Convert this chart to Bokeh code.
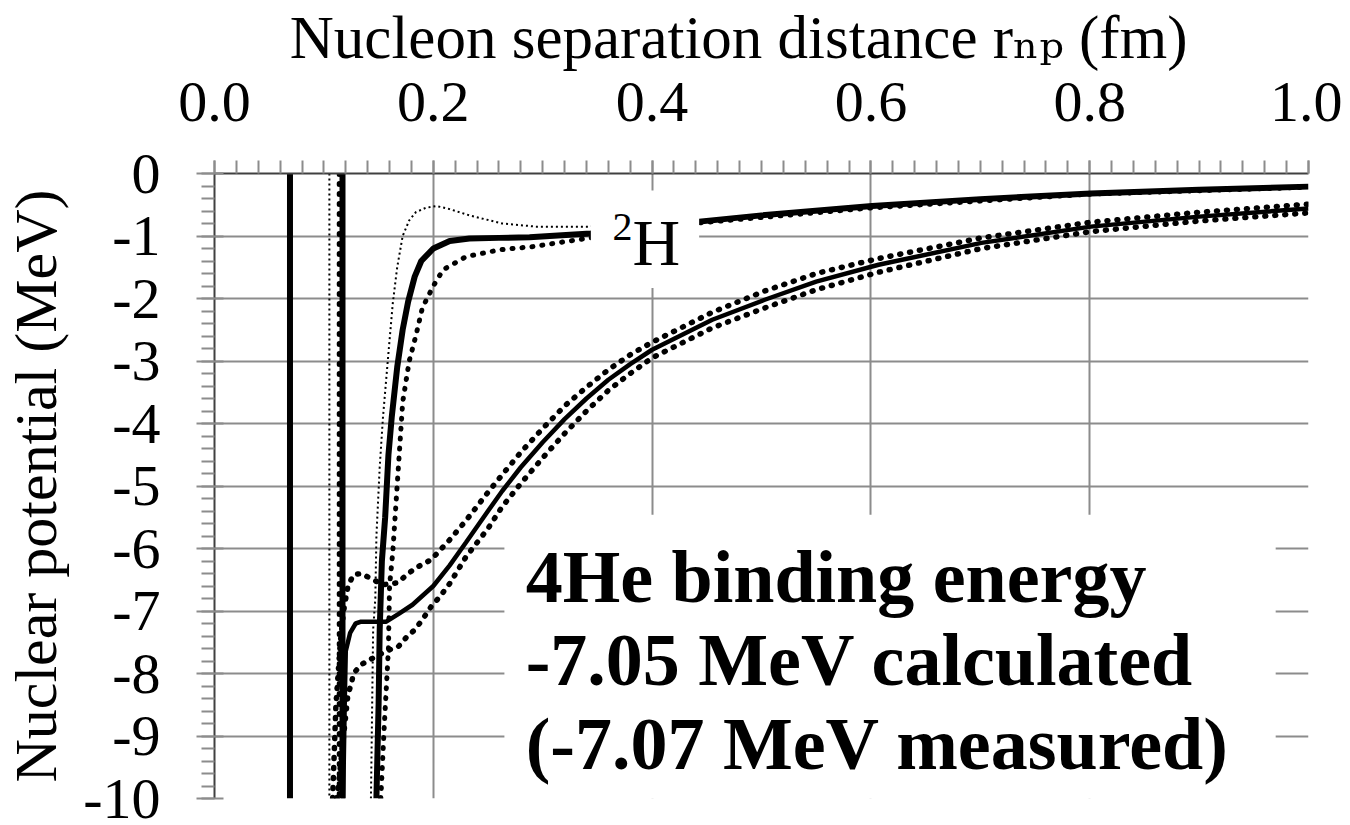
import numpy as np
from bokeh.plotting import figure
from bokeh.models import Range1d, FixedTicker, CustomJSTickFormatter, BoxAnnotation, Label
from bokeh.embed import file_html
from bokeh.resources import INLINE

# ---------------- data ----------------
x_major_ticks = [0.0, 0.2, 0.4, 0.6, 0.8, 1.0]
y_major_ticks = [0, -1, -2, -3, -4, -5, -6, -7, -8, -9, -10]

# steep walls (vertical over the whole range)
wall_a_r = [0.069, 0.069]
wall_a_v = [0.0, -10.0]
wall_b_r = [0.117, 0.117]
wall_b_v = [0.0, -10.0]
wall_thin_r = [0.105, 0.105]
wall_thin_v = [0.0, -10.0]
wall_dot_r = [0.114, 0.114]
wall_dot_v = [0.0, -10.0]

# 2H potentials
h2_solid_r = [0.148, 0.150, 0.151, 0.153, 0.156, 0.159, 0.162, 0.167, 0.172, 0.177,
              0.183, 0.189, 0.200, 0.215, 0.233, 0.260, 0.288, 0.325, 0.344,
              0.400, 0.443, 0.500, 0.601, 0.700, 0.801, 0.900, 1.000]
h2_solid_v = [-10.0, -8.5, -7.3, -6.2, -5.5, -4.5, -3.9, -3.1, -2.5, -2.05,
              -1.65, -1.4, -1.2, -1.08, -1.04, -1.03, -1.02, -0.98, -0.96,
              -0.85, -0.77, -0.67, -0.52, -0.41, -0.32, -0.26, -0.21]

h2_thin_r = [0.143, 0.145, 0.147, 0.148, 0.151, 0.154, 0.159, 0.163, 0.167, 0.172,
             0.178, 0.184, 0.193, 0.203, 0.215, 0.233, 0.263, 0.294, 0.344,
             0.443, 0.601, 0.801, 1.000]
h2_thin_v = [-10.0, -7.3, -6.8, -5.8, -4.7, -3.9, -2.87, -2.07, -1.5, -1.0,
             -0.75, -0.62, -0.55, -0.52, -0.57, -0.67, -0.80, -0.85, -0.85,
             -0.75, -0.51, -0.31, -0.20]

h2_thick_r = [0.152, 0.155, 0.159, 0.160, 0.163, 0.166, 0.169, 0.172, 0.178, 0.184,
              0.190, 0.200, 0.209, 0.230, 0.261, 0.291, 0.321, 0.344,
              0.443, 0.601, 0.801, 1.000]
h2_thick_v = [-10.0, -8.9, -7.6, -6.6, -6.05, -5.25, -4.46, -3.66, -3.0, -2.6,
              -2.15, -1.8, -1.54, -1.33, -1.22, -1.17, -1.09, -1.03,
              -0.79, -0.55, -0.33, -0.22]

# 4He potentials
he4_solid_r = [0.1176, 0.119, 0.120, 0.124, 0.129, 0.134, 0.157, 0.168, 0.181, 0.200,
               0.215, 0.230, 0.250, 0.263, 0.280, 0.300, 0.320, 0.340, 0.360, 0.380,
               0.400, 0.455, 0.503, 0.550, 0.607, 0.701, 0.801, 0.900, 1.000]
he4_solid_v = [-10.0, -8.5, -7.64, -7.35, -7.2, -7.17, -7.17, -7.05, -6.90, -6.60,
               -6.27, -5.90, -5.40, -5.08, -4.70, -4.30, -3.93, -3.60, -3.30, -3.05,
               -2.82, -2.34, -2.02, -1.73, -1.46, -1.11, -0.85, -0.69, -0.56]

he4_upper_r = [0.108, 0.111, 0.115, 0.118, 0.122, 0.127, 0.134, 0.143, 0.154, 0.167,
               0.176, 0.183, 0.198, 0.215, 0.230, 0.250, 0.263, 0.280, 0.300, 0.320,
               0.340, 0.360, 0.380, 0.400, 0.455, 0.503, 0.550, 0.607, 0.701, 0.801,
               0.900, 1.000]
he4_upper_v = [-10.0, -8.5, -7.5, -7.0, -6.6, -6.42, -6.4, -6.48, -6.58, -6.55,
               -6.42, -6.32, -6.18, -5.86, -5.55, -5.10, -4.82, -4.46, -4.08, -3.72,
               -3.42, -3.14, -2.90, -2.70, -2.22, -1.88, -1.60, -1.36, -1.03, -0.78,
               -0.62, -0.49]

he4_lower_r = [0.112, 0.118, 0.122, 0.125, 0.127, 0.134, 0.143, 0.157, 0.168, 0.175,
               0.183, 0.190, 0.198, 0.206, 0.215, 0.230, 0.250, 0.263, 0.280, 0.300,
               0.320, 0.340, 0.360, 0.380, 0.400, 0.455, 0.503, 0.550, 0.607, 0.701,
               0.801, 0.900, 1.000]
he4_lower_v = [-10.0, -9.0, -8.33, -8.17, -8.0, -7.86, -7.77, -7.64, -7.57, -7.43,
               -7.3, -7.14, -6.93, -6.77, -6.56, -6.13, -5.68, -5.33, -4.96, -4.55,
               -4.16, -3.80, -3.47, -3.20, -2.95, -2.47, -2.15, -1.86, -1.58, -1.20,
               -0.93, -0.76, -0.63]

x_title = "Nucleon separation distance r\u2099\u209a (fm)\u00a0\u00a0\u00a0"
y_title = "Nuclear potential (MeV)"
note_lines = ["4He binding energy", "-7.05 MeV calculated", "(-7.07 MeV measured)"]

# ---------------- figure ----------------
SERIF = "Liberation Serif"
GRID = "#8c8c8c"
AXIS = "#404040"

p = figure(width=1342, height=825, x_range=Range1d(0, 1), y_range=Range1d(-10, 0),
           x_axis_location="above", output_backend="svg", toolbar_location=None,
           min_border_left=211, min_border_right=34, min_border_top=170,
           min_border_bottom=27)
p.outline_line_color = None
p.background_fill_color = "white"
p.border_fill_color = "white"

xa = p.xaxis[0]
xa.ticker = FixedTicker(ticks=x_major_ticks,
                        minor_ticks=[float(v) for v in np.round(np.arange(0, 1.0001, 0.02), 2)])
xa.formatter = CustomJSTickFormatter(code="return tick.toFixed(1)")
xa.major_label_text_font = SERIF
xa.major_label_text_font_size = "58px"
xa.major_label_text_color = "black"
xa.major_label_standoff = 40
xa.major_tick_out = 13
xa.major_tick_in = 0
xa.minor_tick_out = 13
xa.minor_tick_in = 0
xa.major_tick_line_color = GRID
xa.minor_tick_line_color = GRID
xa.major_tick_line_width = 2
xa.minor_tick_line_width = 2
xa.axis_line_color = AXIS
xa.axis_line_width = 2
xa.axis_label = x_title
xa.axis_label_text_font = "Liberation Serif, DejaVu Serif"
xa.axis_label_text_font_size = "61px"
xa.axis_label_text_font_style = "normal"
xa.axis_label_text_color = "black"
xa.axis_label_standoff = 9

ya = p.yaxis[0]
ya.ticker = FixedTicker(ticks=y_major_ticks,
                        minor_ticks=[float(v) for v in np.round(np.arange(-10, 0.001, 0.2), 1)])
ya.formatter = CustomJSTickFormatter(code="return tick.toFixed(0)")
ya.major_label_text_font = SERIF
ya.major_label_text_font_size = "58px"
ya.major_label_text_color = "black"
ya.major_label_standoff = 36
ya.major_tick_out = 18
ya.major_tick_in = 9
ya.minor_tick_out = 13
ya.minor_tick_in = 0
ya.major_tick_line_color = GRID
ya.minor_tick_line_color = GRID
ya.major_tick_line_width = 2
ya.minor_tick_line_width = 2
ya.axis_line_color = AXIS
ya.axis_line_width = 2
ya.axis_label = y_title
ya.axis_label_text_font = SERIF
ya.axis_label_text_font_size = "60px"
ya.axis_label_text_font_style = "normal"
ya.axis_label_text_color = "black"
ya.axis_label_standoff = 11

p.xgrid.grid_line_color = GRID
p.xgrid.grid_line_width = 2
p.ygrid.grid_line_color = GRID
p.ygrid.grid_line_width = 2

DOT = "1 9"

# walls
p.line(wall_a_r, wall_a_v, line_color="black", line_width=6)
p.line(wall_b_r, wall_b_v, line_color="black", line_width=6)
p.line(wall_thin_r, wall_thin_v, line_color="black", line_width=2, line_dash="2 3")
p.line(wall_dot_r, wall_dot_v, line_color="black", line_width=5, line_dash=DOT, line_cap="round")

# 2H
p.line(h2_thin_r, h2_thin_v, line_color="black", line_width=2, line_dash="2 3")
p.line(h2_thick_r, h2_thick_v, line_color="black", line_width=5, line_dash=DOT, line_cap="round")
p.line(h2_solid_r, h2_solid_v, line_color="black", line_width=6)

# 4He
p.line(he4_upper_r, he4_upper_v, line_color="black", line_width=5.5, line_dash=DOT, line_cap="round")
p.line(he4_lower_r, he4_lower_v, line_color="black", line_width=5.5, line_dash=DOT, line_cap="round")
p.line(he4_solid_r, he4_solid_v, line_color="black", line_width=4.5)

# white boxes behind labels
p.add_layout(BoxAnnotation(left=0.344, right=0.443, top=-0.27, bottom=-1.83,
                           fill_color="white", fill_alpha=1.0, line_color=None, line_alpha=0))
p.add_layout(BoxAnnotation(left=0.265, right=0.97, top=-5.46, bottom=-10.5,
                           fill_color="white", fill_alpha=1.0, line_color=None, line_alpha=0))

# 2H label
p.add_layout(Label(x=0.3637, y=-0.859, text="2", text_font=SERIF, text_font_size="40px",
                   text_baseline="alphabetic", text_align="left", text_color="black"))
p.add_layout(Label(x=0.382, y=-1.099, text="H", text_font=SERIF, text_font_size="66px",
                   text_baseline="alphabetic", text_align="left", text_color="black"))

# note
for txt, yy in zip(note_lines, [-6.449, -7.787, -9.124]):
    p.add_layout(Label(x=0.2844, y=yy, text=txt, text_font=SERIF, text_font_size="74px",
                       text_font_style="bold", text_baseline="alphabetic",
                       text_align="left", text_color="black"))

open("out.html", "w").write(file_html(p, INLINE))
